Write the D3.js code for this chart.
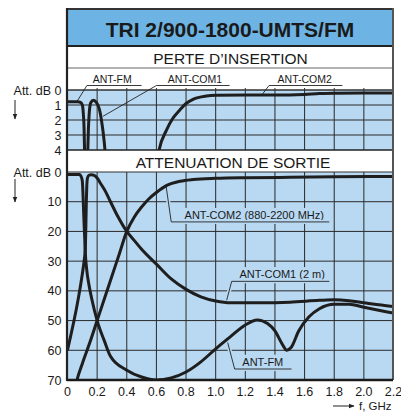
<!DOCTYPE html>
<html>
<head>
<meta charset="utf-8">
<script src="https://cdn.jsdelivr.net/npm/d3@7"></script>
<style>
  body { margin: 0; background: #fff; }
  svg { display: block; font-family: "Liberation Sans", Arial, sans-serif; }
</style>
</head>
<body>
<svg id="chart" width="401" height="412"></svg>
<script>
// ---- data (frequency in GHz, attenuation in dB) ----
var freqTicks = [0, 0.2, 0.4, 0.6, 0.8, 1.0, 1.2, 1.4, 1.6, 1.8, 2.0, 2.2];
var insTicks = [0, 1, 2, 3, 4];
var attTicks = [0, 10, 20, 30, 40, 50, 60, 70];

// perte d'insertion
var insFM = [[0, 0.78], [0.07, 0.78], [0.088, 0.82], [0.1, 1.0], [0.107, 1.6], [0.112, 2.6], [0.115, 4], [0.117, 5]];
var insCOM1 = [[0.134, 5], [0.137, 4], [0.141, 2.6], [0.147, 1.5], [0.157, 0.85], [0.175, 0.68], [0.192, 0.8],
  [0.205, 1.0], [0.218, 1.4], [0.232, 2.2], [0.245, 3.2], [0.254, 4.2], [0.258, 5]];
var insCOM2 = [[0.6, 5], [0.618, 4], [0.668, 2.67], [0.71, 1.9], [0.758, 1.33], [0.8, 0.9], [0.847, 0.62],
  [0.937, 0.4], [1.0, 0.35], [1.2, 0.33], [1.5, 0.33], [1.6, 0.3], [1.7, 0.23], [1.8, 0.21], [2.0, 0.2], [2.2, 0.2]];

// attenuation de sortie
var attFM = [[0, 0.8], [0.08, 0.8], [0.09, 1.3], [0.1, 3], [0.105, 8], [0.11, 15], [0.115, 21], [0.12, 27],
  [0.13, 33], [0.145, 38], [0.165, 43], [0.2, 50], [0.25, 57], [0.29, 62], [0.4, 66.7], [0.5, 69], [0.6, 70],
  [0.7, 69.3], [0.8, 67.3], [0.9, 63.9], [1.0, 59.5], [1.1, 55.4], [1.2, 51.5], [1.28, 49.8], [1.35, 51],
  [1.4, 53.5], [1.45, 58], [1.48, 60], [1.51, 59], [1.56, 53.5], [1.63, 48.7], [1.7, 46], [1.8, 44.5],
  [1.9, 44.5], [2.0, 45.5], [2.1, 46.5], [2.2, 47.5]];
var attCOM1 = [[0, 60], [0.02, 55.5], [0.044, 50], [0.06, 46], [0.075, 42], [0.098, 35], [0.112, 30], [0.12, 26],
  [0.124, 18], [0.127, 10], [0.13, 5], [0.135, 2], [0.145, 1.1], [0.16, 0.9], [0.18, 1.1], [0.2, 2],
  [0.22, 3.6], [0.25, 6], [0.29, 10], [0.34, 15], [0.4, 20], [0.45, 23], [0.5, 26], [0.6, 31], [0.7, 36],
  [0.8, 39.5], [0.9, 42], [1.0, 43.4], [1.1, 44], [1.3, 44], [1.5, 43.8], [1.7, 43.2], [1.8, 43], [1.9, 43.3],
  [2.0, 44], [2.1, 44.7], [2.2, 45.3]];
var attCOM2 = [[0.05, 73], [0.064, 70], [0.1, 64.5], [0.15, 57.5], [0.2, 50], [0.25, 42.5], [0.3, 35],
  [0.35, 27.5], [0.4, 20], [0.45, 15.2], [0.5, 11.8], [0.55, 9], [0.6, 6.9], [0.67, 4.5], [0.76, 3.1],
  [0.85, 2.5], [1.0, 2.1], [1.2, 1.9], [1.5, 1.8], [1.8, 1.6], [2.2, 1.5]];

// ---- layout ----
var svg = d3.select("#chart");
var frame = {left: 67, right: 393, top: 9};
var plotBlue = "#b9d8f1", titleBlue = "#6db4e4", ink = "#1e1e1e";

var x = d3.scaleLinear().domain([0, 2.2]).range([67.5, 393.5]);
var yIns = d3.scaleLinear().domain([0, 4]).range([90, 150]);
var yAtt = d3.scaleLinear().domain([0, 70]).range([172, 380]);

// bands
svg.append("rect").attr("x", frame.left).attr("y", frame.top)
  .attr("width", frame.right - frame.left).attr("height", 37).attr("fill", titleBlue);
svg.append("rect").attr("x", frame.left).attr("y", yIns(0))
  .attr("width", frame.right - frame.left).attr("height", yIns(4) - yIns(0)).attr("fill", plotBlue);
svg.append("rect").attr("x", frame.left).attr("y", yAtt(0))
  .attr("width", frame.right - frame.left).attr("height", yAtt(70) - yAtt(0)).attr("fill", plotBlue);

// grid lines, top panel
var gTop = svg.append("g");
gTop.selectAll(".v").data(freqTicks.slice(1, -1)).enter().append("line")
  .attr("x1", function(d) { return x(d); }).attr("x2", function(d) { return x(d); })
  .attr("y1", yIns(0) - 2).attr("y2", yIns(4))
  .attr("stroke", "#2a2a2a").attr("stroke-width", 1);
gTop.selectAll(".h").data(insTicks.slice(1, -1)).enter().append("line")
  .attr("x1", frame.left).attr("x2", frame.right)
  .attr("y1", function(d) { return yIns(d); }).attr("y2", function(d) { return yIns(d); })
  .attr("stroke", "#2a2a2a").attr("stroke-width", 1);

// grid lines, bottom panel
var gBot = svg.append("g");
gBot.selectAll(".v").data(freqTicks.slice(1, -1)).enter().append("line")
  .attr("x1", function(d) { return x(d); }).attr("x2", function(d) { return x(d); })
  .attr("y1", yAtt(0)).attr("y2", yAtt(70))
  .attr("stroke", "#2a2a2a").attr("stroke-width", 1);
gBot.selectAll(".h").data(attTicks.slice(1, -1)).enter().append("line")
  .attr("x1", frame.left).attr("x2", frame.right)
  .attr("y1", function(d) { return yAtt(d); }).attr("y2", function(d) { return yAtt(d); })
  .attr("stroke", "#2a2a2a").attr("stroke-width", 1);

// band borders
function hline(y, col, w) {
  svg.append("line").attr("x1", frame.left).attr("x2", frame.right)
    .attr("y1", y).attr("y2", y).attr("stroke", col).attr("stroke-width", w);
}
hline(frame.top, "#333", 2);
hline(46, "#222", 2);
hline(68, "#666", 1.2);
hline(yIns(0), "#333", 1.5);
hline(yIns(4), "#222", 1.5);
hline(yAtt(0), "#333", 1.2);

// titles
svg.append("text").attr("x", 230).attr("y", 37).attr("text-anchor", "middle")
  .attr("font-size", "21px").attr("font-weight", "bold").attr("fill", "#1a1a1a")
  .text("TRI 2/900-1800-UMTS/FM");
svg.append("text").attr("x", 230.5).attr("y", 64).attr("text-anchor", "middle")
  .attr("font-size", "15.5px").attr("fill", "#1a1a1a").text("PERTE D\u2019INSERTION");
svg.append("text").attr("x", 233).attr("y", 168).attr("text-anchor", "middle")
  .attr("font-size", "15.5px").attr("fill", "#1a1a1a").text("ATTENUATION DE SORTIE");

// clip paths for the curves
var defs = svg.append("defs");
defs.append("clipPath").attr("id", "clipIns").append("rect")
  .attr("x", frame.left).attr("y", yIns(0) - 3).attr("width", frame.right - frame.left).attr("height", yIns(4) - yIns(0) + 3);
defs.append("clipPath").attr("id", "clipAtt").append("rect")
  .attr("x", frame.left).attr("y", yAtt(0)).attr("width", frame.right - frame.left).attr("height", yAtt(70) - yAtt(0));

// annotation labels, bottom panel (drawn before curves so they knock out the grid)
var annBot = [
  {text: "ANT-COM2 (880-2200 MHz)", tx: 0.79, ty: 15.8, ux0: 0.7, ux1: 1.767, uy: 16.8, px: 0.665, py: 4.6},
  {text: "ANT-COM1 (2 m)", tx: 1.16, ty: 35.7, ux0: 1.108, ux1: 1.767, uy: 36.8, px: 1.074, py: 43.2},
  {text: "ANT-FM", tx: 1.18, ty: 65.2, ux0: 1.128, ux1: 1.512, uy: 66.3, px: 1.081, py: 57.4}
];
var gAnn = svg.append("g");
annBot.forEach(function(a) {
  var t = gAnn.append("text").attr("x", x(a.tx)).attr("y", yAtt(a.ty))
    .attr("font-size", "11px").attr("fill", "#1a1a1a").text(a.text);
  var bb = t.node().getBBox();
  gAnn.insert("rect", "text").attr("x", bb.x - 2).attr("y", bb.y - 1)
    .attr("width", bb.width + 4).attr("height", bb.height + 2).attr("fill", plotBlue);
  gAnn.append("polyline")
    .attr("points", [[x(a.px), yAtt(a.py)], [x(a.ux0), yAtt(a.uy)], [x(a.ux1), yAtt(a.uy)]].join(" "))
    .attr("fill", "none").attr("stroke", plotBlue).attr("stroke-width", 4);
  gAnn.append("polyline")
    .attr("points", [[x(a.px), yAtt(a.py)], [x(a.ux0), yAtt(a.uy)], [x(a.ux1), yAtt(a.uy)]].join(" "))
    .attr("fill", "none").attr("stroke", "#222").attr("stroke-width", 0.9);
});

// annotation labels, top panel (in the white strip above the plot)
var annTop = [
  {text: "ANT-FM", tx: 0.17, ux0: 0.131, ux1: 0.5, px: 0.065, py: 0.75},
  {text: "ANT-COM1", tx: 0.677, ux0: 0.6, ux1: 1.094, px: 0.24, py: 1.75},
  {text: "ANT-COM2", tx: 1.418, ux0: 1.36, ux1: 1.855, px: 1.31, py: 0.35}
];
annTop.forEach(function(a) {
  svg.append("text").attr("x", x(a.tx)).attr("y", 83)
    .attr("font-size", "10.5px").attr("fill", "#1a1a1a").text(a.text);
  svg.append("polyline")
    .attr("points", [[x(a.px), yIns(a.py)], [x(a.ux0), 85.5], [x(a.ux1), 85.5]].join(" "))
    .attr("fill", "none").attr("stroke", "#222").attr("stroke-width", 0.9);
});

// curves
var line = function(yScale) {
  return d3.line()
    .x(function(d) { return x(d[0]); })
    .y(function(d) { return yScale(d[1]); })
    .curve(d3.curveMonotoneX);
};
var gIns = svg.append("g").attr("clip-path", "url(#clipIns)");
[insFM, insCOM1, insCOM2].forEach(function(s) {
  gIns.append("path").attr("d", line(yIns)(s))
    .attr("fill", "none").attr("stroke", ink).attr("stroke-width", 3).attr("stroke-linejoin", "round");
});
var gAtt = svg.append("g").attr("clip-path", "url(#clipAtt)");
[attFM, attCOM1, attCOM2].forEach(function(s) {
  gAtt.append("path").attr("d", line(yAtt)(s))
    .attr("fill", "none").attr("stroke", ink).attr("stroke-width", 3).attr("stroke-linejoin", "round");
});

// frame sides and base
svg.append("line").attr("x1", frame.left).attr("x2", frame.left).attr("y1", frame.top - 1).attr("y2", yAtt(70) + 1)
  .attr("stroke", "#222").attr("stroke-width", 2.2);
svg.append("line").attr("x1", frame.right).attr("x2", frame.right).attr("y1", frame.top - 1).attr("y2", yAtt(70))
  .attr("stroke", "#555").attr("stroke-width", 2);
hline(yAtt(70), "#1a1a1a", 2.4);

// y tick labels
svg.append("g").selectAll("text").data(insTicks).enter().append("text")
  .attr("x", 61.5).attr("y", function(d) { return yIns(d) + 4.5; })
  .attr("text-anchor", "end").attr("font-size", "12.5px").attr("fill", "#1a1a1a")
  .text(function(d) { return d === 0 ? "Att. dB 0" : d; });
svg.append("g").selectAll("text").data(attTicks).enter().append("text")
  .attr("x", 61.5).attr("y", function(d) { return yAtt(d) + 4.5; })
  .attr("text-anchor", "end").attr("font-size", "12.5px").attr("fill", "#1a1a1a")
  .text(function(d) { return d === 0 ? "Att. dB 0" : d; });

// x tick labels
svg.append("g").selectAll("text").data(freqTicks).enter().append("text")
  .attr("x", function(d) { return x(d); }).attr("y", 396)
  .attr("text-anchor", "middle").attr("font-size", "12.5px").attr("fill", "#1a1a1a")
  .text(function(d) { return d === 0 ? "0" : d3.format(".1f")(d); });

// arrows
defs.append("marker").attr("id", "head").attr("viewBox", "0 0 10 10")
  .attr("refX", 9).attr("refY", 5).attr("markerWidth", 6).attr("markerHeight", 6)
  .attr("orient", "auto-start-reverse")
  .append("path").attr("d", "M0,1 L10,5 L0,9 Z").attr("fill", "#222");
function arrow(x1, y1, x2, y2) {
  svg.append("line").attr("x1", x1).attr("y1", y1).attr("x2", x2).attr("y2", y2)
    .attr("stroke", "#222").attr("stroke-width", 1).attr("marker-end", "url(#head)");
}
arrow(15, 100, 15, 119);
arrow(15, 179, 15, 202);
arrow(333, 406, 354, 406);
svg.append("text").attr("x", 359).attr("y", 410)
  .attr("font-size", "11.5px").attr("fill", "#1a1a1a").text("f, GHz");
</script>
</body>
</html>
